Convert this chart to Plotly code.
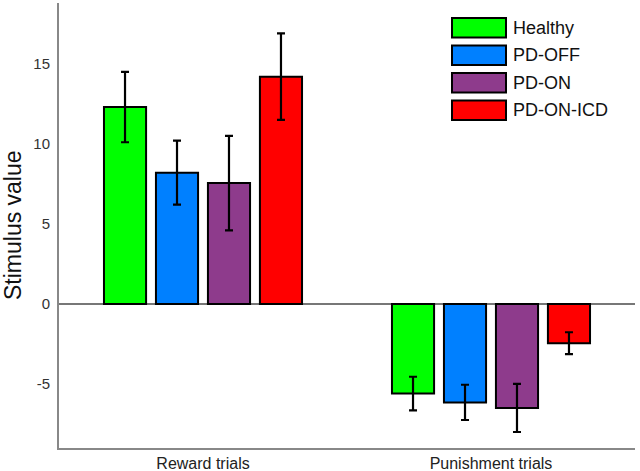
import plotly.graph_objects as go

categories = ["Reward trials", "Punishment trials"]
groups = ["Healthy", "PD-OFF", "PD-ON", "PD-ON-ICD"]
colors = ["#00FF00", "#0080FF", "#8E3B8C", "#FF0000"]
means = {
    "Healthy": [12.3, -5.6],
    "PD-OFF": [8.2, -6.15],
    "PD-ON": [7.55, -6.5],
    "PD-ON-ICD": [14.2, -2.45],
}
errors = {
    "Healthy": [2.2, 1.05],
    "PD-OFF": [2.0, 1.1],
    "PD-ON": [2.95, 1.5],
    "PD-ON-ICD": [2.7, 0.68],
}
y_ticks = [-5, 0, 5, 10, 15]
y_tick_labels = ["-5", "0", "5", "10", "15"]
y_range = [-9.0, 18.8]

W, H = 640, 471
L, R, T, B = 59, 5, 3, 23
pw, ph = W - L - R, H - T - B

FONT = "Arial, 'Liberation Sans', sans-serif"

fig = go.Figure()
for g, c in zip(groups, colors):
    fig.add_trace(go.Bar(
        x=categories, y=means[g], name=g,
        marker=dict(color=c, line=dict(color="black", width=2)),
        error_y=dict(type="data", array=errors[g], visible=True,
                     color="black", thickness=2.2, width=4),
        showlegend=False,
    ))

def px_x(p):
    return (p - L) / pw

def px_y(p):
    return (H - B - p) / ph

shapes = []
annotations = []
box_x0, box_x1 = 452, 506
row_tops = [18, 45.5, 73, 100.5]
box_h = 19.5
for g, c, top in zip(groups, colors, row_tops):
    shapes.append(dict(type="rect", xref="paper", yref="paper",
                       x0=px_x(box_x0), x1=px_x(box_x1),
                       y0=px_y(top + box_h), y1=px_y(top),
                       fillcolor=c, line=dict(color="black", width=2)))
    annotations.append(dict(xref="paper", yref="paper",
                            x=px_x(511), y=px_y(top + box_h / 2),
                            text=g, showarrow=False, xanchor="left", yanchor="middle",
                            font=dict(family=FONT, size=18, color="#111")))

annotations.append(dict(xref="paper", yref="paper", x=px_x(13), y=px_y(225),
                        text="Stimulus value", textangle=-90, showarrow=False,
                        xanchor="center", yanchor="middle",
                        font=dict(family=FONT, size=23, color="#111")))

fig.update_layout(
    width=W, height=H,
    margin=dict(l=L, r=R, t=T, b=B, autoexpand=False),
    paper_bgcolor="white", plot_bgcolor="white",
    barmode="group", bargap=0.278, bargroupgap=0.19,
    shapes=shapes, annotations=annotations,
    font=dict(family=FONT, color="#222"),
)
fig.update_xaxes(showline=True, linecolor="#888", linewidth=2, ticks="",
                 showgrid=False, tickfont=dict(size=16, color="#222"),
                 mirror=False)
fig.update_yaxes(range=y_range, tickvals=y_ticks, ticktext=y_tick_labels,
                 showline=True, linecolor="#888",
                 linewidth=2, ticks="", showgrid=False, zeroline=True,
                 zerolinecolor="#777", zerolinewidth=1.5,
                 tickfont=dict(size=15, color="#333"), ticklabelstandoff=4)

fig.write_html("out.html", config={"displayModeBar": False},
               post_script="document.body.style.margin='0';document.body.style.overflow='hidden';")
